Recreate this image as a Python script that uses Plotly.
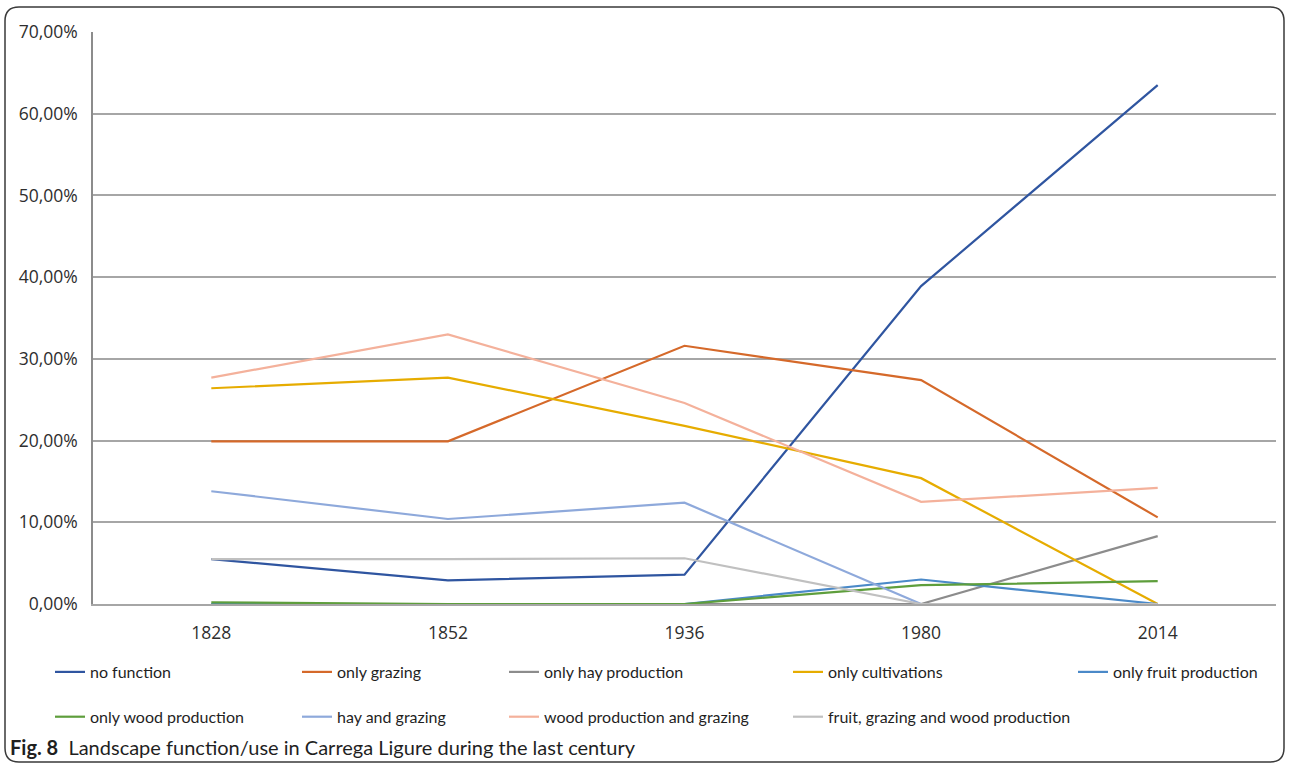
import plotly.graph_objects as go

# ---- data -------------------------------------------------------------
years = ["1828", "1852", "1936", "1980", "2014"]

no_function = [5.5, 2.9, 3.6, 38.9, 63.5]
only_grazing = [19.9, 19.9, 31.6, 27.4, 10.6]
only_hay_production = [0.0, 0.0, 0.0, 0.0, 8.3]
only_cultivations = [26.4, 27.7, 21.8, 15.4, 0.0]
only_fruit_production = [0.0, 0.0, 0.0, 3.0, 0.0]
only_wood_production = [0.2, 0.0, 0.0, 2.3, 2.8]
hay_and_grazing = [13.8, 10.4, 12.4, 0.0, 0.0]
wood_production_and_grazing = [27.7, 33.0, 24.6, 12.5, 14.2]
fruit_grazing_wood = [5.5, 5.5, 5.6, 0.0, 0.0]

y_tick_values = [0, 10, 20, 30, 40, 50, 60, 70]
y_tick_labels = ["0,00%", "10,00%", "20,00%", "30,00%", "40,00%", "50,00%", "60,00%", "70,00%"]

# ---- page geometry ----------------------------------------------------
W, H = 1290, 766
ML, MR, MT, MB = 93, 14, 32, 162
PW, PH = W - ML - MR, H - MT - MB


def px(x):
    return (x - ML) / PW


def py(y):
    return (H - MB - y) / PH


series = [
    ("no function", no_function, "#2F55A0", "legend"),
    ("only grazing", only_grazing, "#D5692A", "legend2"),
    ("only hay production", only_hay_production, "#8C8C8C", "legend3"),
    ("only cultivations", only_cultivations, "#E6AC00", "legend4"),
    ("only fruit production", only_fruit_production, "#4A89C8", "legend5"),
    ("only wood production", only_wood_production, "#5E9E3C", "legend"),
    ("hay and grazing", hay_and_grazing, "#8EA9DB", "legend2"),
    ("wood production and grazing", wood_production_and_grazing, "#F4B19B", "legend3"),
    ("fruit, grazing and wood production", fruit_grazing_wood, "#C0C0C0", "legend4"),
]

fig = go.Figure()
for name, vals, color, leg in series:
    fig.add_trace(go.Scatter(
        x=years, y=vals, name=name, mode="lines",
        line=dict(color=color, width=2.2),
        legend=leg, legendgroup=name,
    ))

legend_font = dict(family="Lato", size=16, color="#1F1F1F")
legend_lefts = [50, 297, 504, 788, 1073]
legend_top = 655


def legend_cfg(xpix):
    return dict(
        x=px(xpix), y=py(legend_top), xanchor="left", yanchor="top",
        orientation="v", font=legend_font, bgcolor="rgba(0,0,0,0)",
        tracegroupgap=21, itemwidth=30, borderwidth=0,
    )


# rounded frame around the whole figure
x0, y0, x1, y1, r = 5, 7, 1284, 762, 14
frame = (
    f"M {px(x0 + r)},{py(y0)} L {px(x1 - r)},{py(y0)} "
    f"Q {px(x1)},{py(y0)} {px(x1)},{py(y0 + r)} "
    f"L {px(x1)},{py(y1 - r)} Q {px(x1)},{py(y1)} {px(x1 - r)},{py(y1)} "
    f"L {px(x0 + r)},{py(y1)} Q {px(x0)},{py(y1)} {px(x0)},{py(y1 - r)} "
    f"L {px(x0)},{py(y0 + r)} Q {px(x0)},{py(y0)} {px(x0 + r)},{py(y0)} Z"
)

tick_font = dict(family="Open Sans", size=17.5, color="#2E2E2E")

fig.update_layout(
    width=W, height=H,
    margin=dict(l=ML, r=MR, t=MT, b=MB),
    paper_bgcolor="white", plot_bgcolor="white",
    showlegend=True,
    legend=legend_cfg(legend_lefts[0]),
    legend2=legend_cfg(legend_lefts[1]),
    legend3=legend_cfg(legend_lefts[2]),
    legend4=legend_cfg(legend_lefts[3]),
    legend5=legend_cfg(legend_lefts[4]),
    xaxis=dict(
        type="category", range=[-0.5, 4.5],
        showgrid=False, showline=True, linecolor="#A6A6A6", linewidth=1.5,
        ticks="", ticklabelstandoff=12, tickfont=tick_font,
    ),
    yaxis=dict(
        range=[0, 70], tickvals=y_tick_values, ticktext=y_tick_labels,
        showgrid=True, gridcolor="#A6A6A6", gridwidth=1.5,
        showline=True, linecolor="#8C8C8C", linewidth=1.5,
        zeroline=False, ticks="", ticklabelstandoff=10, tickfont=tick_font,
    ),
    shapes=[dict(type="path", path=frame, xref="paper", yref="paper",
                 line=dict(color="#3A3A3A", width=1.5), layer="above")],
    annotations=[dict(
        text="<b>Fig. 8</b>  Landscape function/use in Carrega Ligure during the last century",
        xref="paper", yref="paper", x=px(8), y=py(747),
        xanchor="left", yanchor="middle", showarrow=False,
        font=dict(family="Lato", size=20, color="#1F1F1F"),
    )],
)

fig.write_html("out.html")
